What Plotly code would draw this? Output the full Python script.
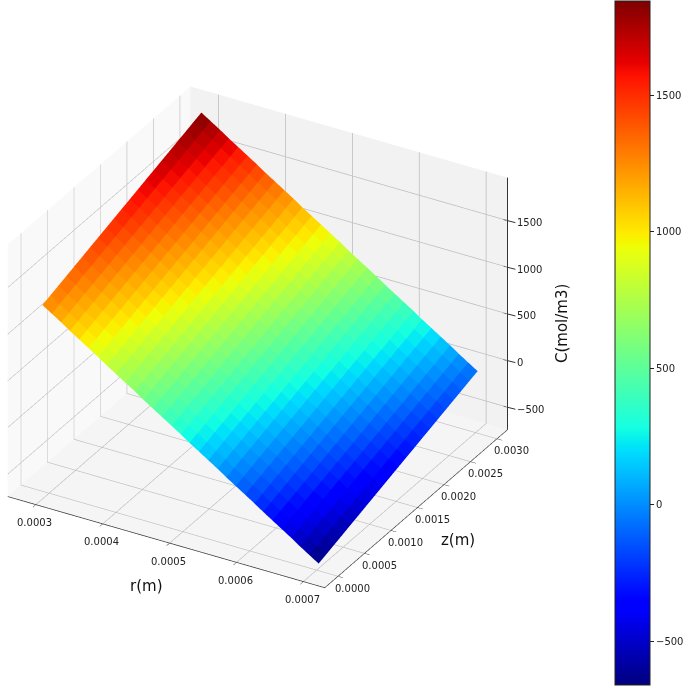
import numpy as np
import plotly.graph_objects as go

r_values = [0.000290,0.000304,0.000318,0.000331,0.000345,0.000359,0.000373,0.000386,0.000400,0.000414,0.000428,0.000441,0.000455,0.000469,0.000483,0.000497,0.000510,0.000524,0.000538,0.000552,0.000565,0.000579,0.000593,0.000607,0.000620,0.000634,0.000648,0.000662,0.000675,0.000689,0.000703]
z_values = [0.0,0.00015,0.0003,0.00045,0.0006,0.00075,0.0009,0.00105,0.0012,0.00135,0.0015,0.00165,0.0018,0.00195,0.0021,0.00225,0.0024,0.00255,0.0027,0.00285,0.003]
# one row per r value, one column per z value
C_values = [
[1256,1285,1315,1344,1374,1403,1433,1462,1492,1521,1551,1580,1609,1639,1668,1698,1727,1757,1786,1816,1845],
[1192,1221,1251,1280,1310,1339,1369,1398,1428,1457,1487,1516,1545,1575,1604,1634,1663,1693,1722,1752,1781],
[1128,1157,1187,1216,1246,1275,1305,1334,1364,1393,1423,1452,1481,1511,1540,1570,1599,1629,1658,1688,1717],
[1064,1093,1123,1152,1182,1211,1241,1270,1300,1329,1359,1388,1417,1447,1476,1506,1535,1565,1594,1624,1653],
[1000,1029,1059,1088,1118,1147,1177,1206,1236,1265,1295,1324,1353,1383,1412,1442,1471,1501,1530,1560,1589],
[936,965,995,1024,1054,1083,1113,1142,1172,1201,1231,1260,1289,1319,1348,1378,1407,1437,1466,1496,1525],
[872,901,931,960,990,1019,1049,1078,1108,1137,1167,1196,1225,1255,1284,1314,1343,1373,1402,1432,1461],
[808,837,867,896,926,955,985,1014,1044,1073,1103,1132,1161,1191,1220,1250,1279,1309,1338,1368,1397],
[744,773,803,832,862,891,921,950,980,1009,1039,1068,1097,1127,1156,1186,1215,1245,1274,1304,1333],
[680,709,739,768,798,827,857,886,916,945,975,1004,1033,1063,1092,1122,1151,1181,1210,1240,1269],
[616,645,675,704,734,763,793,822,852,881,911,940,969,999,1028,1058,1087,1117,1146,1176,1205],
[552,581,611,640,670,699,729,758,788,817,847,876,905,935,964,994,1023,1053,1082,1112,1141],
[488,517,547,576,606,635,665,694,724,753,783,812,841,871,900,930,959,989,1018,1048,1077],
[424,453,483,512,542,571,601,630,660,689,719,748,777,807,836,866,895,925,954,984,1013],
[360,389,419,448,478,507,537,566,596,625,655,684,713,743,772,802,831,861,890,920,949],
[296,325,355,384,414,443,473,502,532,561,591,620,649,679,708,738,767,797,826,856,885],
[232,261,291,320,350,379,409,438,468,497,527,556,585,615,644,674,703,733,762,792,821],
[168,197,227,256,286,315,345,374,404,433,463,492,521,551,580,610,639,669,698,728,757],
[104,133,163,192,222,251,281,310,340,369,399,428,457,487,516,546,575,605,634,664,693],
[40,69,99,128,158,187,217,246,276,305,335,364,393,423,452,482,511,541,570,600,629],
[-24,5,35,64,94,123,153,182,212,241,271,300,329,359,388,418,447,477,506,536,565],
[-88,-59,-29,0,30,59,89,118,148,177,207,236,265,295,324,354,383,413,442,472,501],
[-152,-123,-93,-64,-34,-5,25,54,84,113,143,172,201,231,260,290,319,349,378,408,437],
[-216,-187,-157,-128,-98,-69,-39,-10,20,49,79,108,137,167,196,226,255,285,314,344,373],
[-280,-251,-221,-192,-162,-133,-103,-74,-44,-15,15,44,73,103,132,162,191,221,250,280,309],
[-344,-315,-285,-256,-226,-197,-167,-138,-108,-79,-49,-20,9,39,68,98,127,157,186,216,245],
[-408,-379,-349,-320,-290,-261,-231,-202,-172,-143,-113,-84,-55,-25,4,34,63,93,122,152,181],
[-472,-443,-413,-384,-354,-325,-295,-266,-236,-207,-177,-148,-119,-89,-60,-30,-1,29,58,88,117],
[-536,-507,-477,-448,-418,-389,-359,-330,-300,-271,-241,-212,-183,-153,-124,-94,-65,-35,-6,24,53],
[-600,-571,-541,-512,-482,-453,-423,-394,-364,-335,-305,-276,-247,-217,-188,-158,-129,-99,-70,-40,-11],
[-664,-635,-605,-576,-546,-517,-487,-458,-428,-399,-369,-340,-311,-281,-252,-222,-193,-163,-134,-104,-75],
]
r_ticks = [0.0003, 0.0004, 0.0005, 0.0006, 0.0007]
z_ticks = [0.0, 0.0005, 0.001, 0.0015, 0.002, 0.0025, 0.003]
C_ticks = [-500, 0, 500, 1000, 1500]
r_range = [0.000258, 0.000732]
z_range = [-0.00025, 0.0032]
C_range = [-740, 1960]

FONT = "DejaVu Sans"
INK = "#222"

# matplotlib "jet" as a Plotly colorscale
_stops = [0, .11, .125, .34, .35, .375, .64, .65, .66, .89, .91, 1]
_r = np.interp(_stops, [0, .35, .66, .89, 1], [0, 0, 1, 1, .5])
_g = np.interp(_stops, [0, .125, .375, .64, .91, 1], [0, 0, 1, 1, 0, 0])
_b = np.interp(_stops, [0, .11, .34, .65, 1], [.5, 1, 1, 0, 0])
jet = [[s, f"rgb({int(a*255)},{int(b*255)},{int(c*255)})"] for s, a, b, c in zip(_stops, _r, _g, _b)]

C = np.array(C_values, dtype=float)
nr, nz = C.shape
R, Z = np.meshgrid(r_values, z_values, indexing="ij")
idx = lambda a, b: a * nz + b
I, J, K, cell = [], [], [], []
for a in range(nr - 1):
    for b in range(nz - 1):
        mean = C[a:a + 2, b:b + 2].mean()
        I += [idx(a, b), idx(a, b)]
        J += [idx(a + 1, b), idx(a + 1, b + 1)]
        K += [idx(a + 1, b + 1), idx(a, b + 1)]
        cell += [mean, mean]

mesh = go.Mesh3d(
    x=R.ravel(), y=Z.ravel(), z=C.ravel(), i=I, j=J, k=K,
    intensity=cell, intensitymode="cell", colorscale=jet,
    cmin=-661, cmax=1845, flatshading=True,
    lighting=dict(ambient=1, diffuse=0, specular=0, fresnel=0, roughness=1),
    hoverinfo="skip",
    colorbar=dict(
        x=615 / 685, xanchor="left", y=0.5, yanchor="middle",
        thicknessmode="pixels", thickness=35, lenmode="pixels", len=684,
        tickvals=C_ticks, ticks="outside", ticklen=4, tickwidth=1, tickcolor=INK,
        outlinecolor=INK, outlinewidth=1, xpad=0, ypad=0,
        tickfont=dict(family=FONT, size=10, color=INK),
    ),
)

# The C axis sits on the right-hand vertical edge of the box
line_x, line_y, line_z = [r_range[1]] * 2, [z_range[1]] * 2, list(C_range)
for v in C_ticks:
    line_x += [None, r_range[1], r_range[1] - 0.000006]
    line_y += [None, z_range[1], z_range[1]]
    line_z += [None, v, v]
c_line = go.Scatter3d(
    x=line_x, y=line_y, z=line_z, connectgaps=False,
    mode="lines", line=dict(color="#333", width=2), hoverinfo="skip", showlegend=False,
)


def axis(ticks, rng, bg, fmt, native=True):
    return dict(
        title=dict(text=""),
        tickvals=ticks, tickformat=fmt, range=rng, autorange=False,
        showticklabels=False,
        backgroundcolor=bg, showbackground=True,
        gridcolor="#bcbcbc", gridwidth=1.5, zeroline=False,
        showline=native, linecolor="#333", linewidth=1.5,
        ticks="outside" if native else "", ticklen=6, tickcolor="#333", showspikes=False,
    )


def title_note(text, x, y, z, dx, dy, angle=0):
    return dict(x=x, y=y, z=z, text=text, showarrow=False, xshift=dx, yshift=dy, textangle=angle,
                font=dict(family=FONT, size=15, color="#111"))


def tick_note(v, x, y, dx, dy):
    return dict(x=x, y=y, z=C_range[0], text=f"{v:.4f}", showarrow=False, xshift=dx, yshift=dy,
                font=dict(family=FONT, size=10, color=INK))


notes = [
    title_note("r(m)", 0.00049, z_range[0], C_range[0], -17, -45),
    title_note("z(m)", r_range[1], 0.0015, C_range[0], 41, -32),
    title_note("C(mol/m3)", r_range[1], z_range[1], 600, 54, -19, -90),
]
notes += [tick_note(v, v, z_range[0], -1, -18) for v in r_ticks]
notes += [tick_note(v, r_range[1], v, 15, -12) for v in z_ticks]
for v in C_ticks:
    notes.append(dict(
        x=r_range[1], y=z_range[1], z=v, text=str(v).replace("-", "\u2212"), showarrow=True, arrowhead=0, arrowwidth=1,
        arrowcolor="#333", ax=8, ay=2, xanchor="left", yanchor="middle",
        font=dict(family=FONT, size=10, color=INK),
    ))

shift = (0.116, 0.0554, -0.0175)
fig = go.Figure([mesh, c_line])
fig.update_layout(
    width=685, height=686, margin=dict(l=0, r=0, t=0, b=0),
    paper_bgcolor="white", showlegend=False,
    scene=dict(
        domain=dict(x=[0, 0.88], y=[0, 0.997]),
        xaxis=axis(r_ticks, r_range, "#f9f9f9", ".4f"),
        yaxis=axis(z_ticks, z_range, "#f2f2f2", ".4f"),
        zaxis=axis(C_ticks, C_range, "#f5f5f5", "d", native=False),
        aspectmode="manual", aspectratio=dict(x=1.07, y=1.07, z=0.85),
        annotations=notes,
        camera=dict(
            projection=dict(type="orthographic"),
            center=dict(x=shift[0], y=shift[1], z=shift[2]),
            eye=dict(x=0.79 + shift[0], y=-1.37 + shift[1], z=0.91 + shift[2]),
            up=dict(x=0, y=0, z=1),
        ),
    ),
)
fig.write_html("out.html", post_script="document.body.style.margin='0';",
               config=dict(displayModeBar=False))
